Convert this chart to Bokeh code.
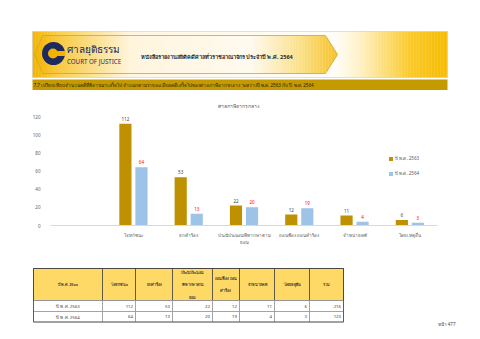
import numpy as np
from bokeh.plotting import figure
from bokeh.models import Range1d, FactorRange, ColumnDataSource, LabelSet, Legend, LegendItem
from bokeh.layouts import column
from bokeh.transform import dodge
from bokeh.core.properties import value
from bokeh.embed import file_html
from bokeh.resources import INLINE

FONT = "Noto Sans"

# ---------------- data ----------------
categories = ["โจทก์ชนะ", "ยกคำร้อง", "ประนีประนอมพิพากษาตาม\nยอม",
              "ถอนฟ้อง ถอนคำร้อง", "จำหน่ายคดี", "โดยเหตุอื่น"]
series_names = ["ปี พ.ศ. 2563", "ปี พ.ศ. 2564"]
values_2563 = [112, 53, 22, 12, 11, 6]
values_2564 = [64, 13, 20, 19, 4, 3]
y_ticks = [0, 20, 40, 60, 80, 100, 120]
table_headers = ["ปี พ.ศ. 25xx", "โจทก์ชนะ", "ยกคำร้อง", "ประนีประนอม\nพิพากษาตาม\nยอม",
                 "ถอนฟ้อง ถอน\nคำร้อง", "จำหน่ายคดี", "โดยเหตุอื่น", "รวม"]
totals = [216, 123]

report_title = "หนังสือรายงานสถิติคดีศาลทั่วราชอาณาจักร ประจำปี พ.ศ. 2564"
section_title = ("7.7 เปรียบเทียบจำนวนคดีที่พิจารณาเสร็จไป จำแนกตามรายละเอียดคดีเสร็จไปของศาลภาษีอากรกลาง "
                 "ระหว่างปี พ.ศ. 2563 กับ ปี พ.ศ. 2564")
chart_title = "ศาลภาษีอากรกลาง"
page_label = "หน้า 477"

GOLD_BAR = "#bf9000"
BLUE_BAR = "#9dc3e6"


def hex2rgb(h):
    h = h.lstrip("#")
    return [int(h[i:i + 2], 16) for i in (0, 2, 4)]


def grad(stops, xs):
    px = [s[0] for s in stops]
    cols = np.array([hex2rgb(s[1]) for s in stops])
    out = []
    for x in xs:
        r, g, b = (int(round(np.interp(x, px, cols[:, k]))) for k in range(3))
        out.append("#%02x%02x%02x" % (r, g, b))
    return out


def bare(fig):
    fig.grid.visible = False
    fig.outline_line_color = None
    fig.background_fill_color = "white"
    fig.border_fill_color = "white"
    fig.frame_align = False
    return fig


# ---------------- header ----------------
hdr = bare(figure(width=480, height=110, x_range=Range1d(0, 480), y_range=Range1d(110, 0),
                  x_axis_type=None, y_axis_type=None, output_backend="svg",
                  toolbar_location=None, min_border=0))

# banner background gradient
step = 1.5
bx = np.arange(32, 447, step)
out_stops = [(32, "#f4b400"), (60, "#f9cf4a"), (130, "#fff6e0"), (335, "#fffdf8"),
             (360, "#fff1c4"), (410, "#fbc929"), (447, "#f6bc00")]
hdr.quad(left=bx, right=np.minimum(bx + step + 0.3, 447), top=31, bottom=77,
         fill_color=grad(out_stops, bx + step / 2), line_color=None)
hdr.quad(left=[32], right=[447], top=[31], bottom=[77], fill_color=None,
         line_color="#c8ccd4", line_width=0.6)

# arrow-shaped panel
def top_edge(x):
    if x < 42:
        return 54 - (x - 34) / 8 * 19
    if x <= 325:
        return 35
    return 35 + (x - 325) / 12 * 19

in_stops = [(34, "#f3b300"), (55, "#f7c73c"), (130, "#fff5dc"), (250, "#fffaf0"),
            (300, "#fbe08a"), (337, "#f6c22a")]
px0 = np.arange(34, 337, step)
polys_x, polys_y = [], []
for x0 in px0:
    x1 = min(x0 + step + 0.3, 337)
    polys_x.append([x0, x1, x1, x0])
    polys_y.append([top_edge(x0), top_edge(x1), 108 - top_edge(x1), 108 - top_edge(x0)])
hdr.patches(polys_x, polys_y, fill_color=grad(in_stops, px0 + step / 2), line_color=None)
hdr.patch([42, 325, 337, 325, 42, 34], [35, 35, 54, 73, 73, 54], fill_color=None,
          line_color="#c9a437", line_width=0.8)

# logo
NAVY = "#1c2a5f"
hdr.circle(x=[53], y=[53], radius=11.5, fill_color=NAVY, line_color=None)
hdr.circle(x=[52.5], y=[53], radius=5, fill_color="#f3b300", line_color=None)
hdr.quad(left=[53], right=[65], top=[50.5], bottom=[55.5], fill_color="#f3b300", line_color=None)
hdr.text(x=[66], y=[48.5], text=["ศาลยุติธรรม"], text_font=value(FONT), text_font_size="10px",
         text_color=NAVY, text_baseline="middle")
hdr.text(x=[66.5], y=[60.5], text=["COURT OF JUSTICE"], text_font=value(FONT),
         text_font_size="6.2px", text_color=NAVY, text_baseline="middle")
hdr.text(x=[140], y=[56], text=[report_title], text_font=value(FONT), text_font_size="5.6px",
         text_font_style="bold", text_color="#2b2b2b", text_baseline="middle")

# section band
hdr.quad(left=[32], right=[447], top=[79], bottom=[89.5], fill_color="#c49a00", line_color=None)
hdr.text(x=[33], y=[84.3], text=[section_title], text_font=value(FONT), text_font_size="4.6px",
         text_color="#2a2000", text_baseline="middle")

# chart title
hdr.text(x=[238], y=[105], text=[chart_title], text_font=value(FONT), text_font_size="5px",
         text_color="#595959", text_align="center", text_baseline="middle")

# ---------------- chart ----------------
factors = [" "] + categories
src = ColumnDataSource(dict(cat=categories, v1=values_2563, v2=values_2564,
                            t1=[str(v) for v in values_2563], t2=[str(v) for v in values_2564]))

p = figure(width=480, height=140, x_range=FactorRange(*factors, range_padding=0),
           y_range=Range1d(0, 120), output_backend="svg", toolbar_location=None,
           min_border_left=50, min_border_right=43, min_border_top=6, min_border_bottom=25)
bare(p)
OFF = 0.145
BW = 0.22
r1 = p.vbar(x=dodge("cat", -OFF, range=p.x_range), top="v1", width=BW, source=src,
            fill_color=GOLD_BAR, line_color=None)
r2 = p.vbar(x=dodge("cat", OFF, range=p.x_range), top="v2", width=BW, source=src,
            fill_color=BLUE_BAR, line_color=None)

p.add_layout(LabelSet(x=dodge("cat", -OFF, range=p.x_range), y="v1", text="t1", source=src,
                      text_align="center", y_offset=3, text_font_size="4.5px",
                      text_font=value(FONT), text_color="#404040"))
p.add_layout(LabelSet(x=dodge("cat", OFF, range=p.x_range), y="v2", text="t2", source=src,
                      text_align="center", y_offset=3, text_font_size="4.5px",
                      text_font=value(FONT), text_color="#ff0000"))

p.yaxis.ticker = y_ticks
p.yaxis.axis_line_color = None
p.yaxis.major_tick_line_color = None
p.yaxis.minor_tick_line_color = None
p.yaxis.major_label_text_font_size = "4.5px"
p.yaxis.major_label_text_color = "#595959"
p.yaxis.major_label_text_font = FONT
p.yaxis.major_label_standoff = 4

p.xaxis.axis_line_color = "#d9d9d9"
p.xaxis.major_tick_line_color = None
p.xaxis.minor_tick_line_color = None
p.xaxis.major_label_text_font_size = "4.5px"
p.xaxis.major_label_text_color = "#595959"
p.xaxis.major_label_text_font = FONT
p.xaxis.major_label_standoff = 0

legend = Legend(items=[LegendItem(label=series_names[0], renderers=[r1]),
                       LegendItem(label=series_names[1], renderers=[r2])],
                location=(338, 48), orientation="vertical", glyph_width=5, glyph_height=5,
                label_height=5, label_text_font_size="4.5px", label_text_font=FONT,
                label_text_color="#595959", label_standoff=2, spacing=8, padding=0, margin=0,
                border_line_color=None, background_fill_alpha=0)
p.add_layout(legend)

# ---------------- table ----------------
tb = bare(figure(width=480, height=89, x_range=Range1d(0, 480), y_range=Range1d(339, 250),
                 x_axis_type=None, y_axis_type=None, output_backend="svg",
                 toolbar_location=None, min_border=0))
edges = [33, 102, 135, 172, 212, 239, 274, 309, 343]
row_edges = [268, 300, 311, 321.5]
lefts, rights = edges[:-1], edges[1:]
centers = [(a + b) / 2 for a, b in zip(lefts, rights)]

tb.quad(left=lefts, right=rights, top=row_edges[0], bottom=row_edges[1],
        fill_color="#ffd966", line_color="#3a3a3a", line_width=0.7)
for r in range(2):
    tb.quad(left=lefts, right=rights, top=row_edges[r + 1], bottom=row_edges[r + 2],
            fill_color="white", line_color="#808080", line_width=0.6)
tb.quad(left=[edges[0]], right=[edges[-1]], top=[row_edges[0]], bottom=[row_edges[-1]],
        fill_color=None, line_color="#3a3a3a", line_width=0.7)

tb.text(x=centers, y=[(row_edges[0] + row_edges[1]) / 2] * len(centers), text=table_headers,
        text_font=value(FONT), text_font_size="3.8px", text_font_style="bold",
        text_color="#3a3a3a", text_align="center", text_baseline="middle", text_line_height=2.5)

for r, (name, vals, tot) in enumerate(zip(series_names, [values_2563, values_2564], totals)):
    ymid = (row_edges[r + 1] + row_edges[r + 2]) / 2
    tb.text(x=[centers[0]], y=[ymid], text=[name], text_font=value(FONT), text_font_size="4.3px",
            text_color="#3a3a3a", text_align="center", text_baseline="middle")
    nums = list(vals) + [tot]
    tb.text(x=[e - 2.5 for e in rights[1:]], y=[ymid] * len(nums), text=[str(v) for v in nums],
            text_font=value(FONT), text_font_size="4.3px", text_color="#3a3a3a",
            text_align="right", text_baseline="middle")

tb.text(x=[455], y=[323.5], text=[page_label], text_font=value(FONT), text_font_size="4.5px",
        text_color="#404040", text_align="right", text_baseline="middle")

layout = column(hdr, p, tb, spacing=0)
open("out.html", "w").write(file_html(layout, INLINE))
